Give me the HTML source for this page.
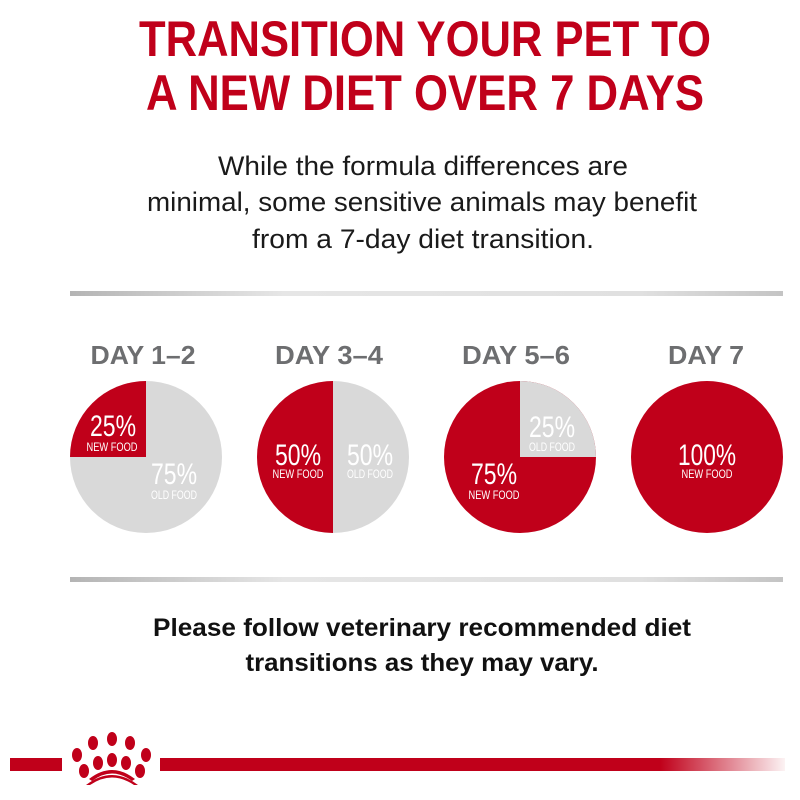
<!DOCTYPE html>
<html><head><style>
body{margin:0;background:#fff}
svg{display:block}
.t{font-family:"Liberation Sans Narrow","Liberation Sans",sans-serif;font-weight:bold;fill:#c0001a;font-size:50px}
.b{font-family:"Liberation Sans",sans-serif;font-size:26.5px;fill:#1a1a1a}
.bb{font-family:"Liberation Sans",sans-serif;font-size:25px;fill:#111;font-weight:bold}
.d{font-family:"Liberation Sans",sans-serif;font-weight:bold;fill:#6d6e70;font-size:26px}
.p{font-family:"Liberation Sans Narrow","Liberation Sans",sans-serif;fill:#fff;font-size:30px}
.s{font-family:"Liberation Sans Narrow","Liberation Sans",sans-serif;fill:#fff;font-size:12px}
</style></head><body>
<svg width="800" height="800" viewBox="0 0 800 800">
<defs>
<linearGradient id="g" x1="0" x2="1"><stop offset="0" stop-color="#b4b4b4"/><stop offset="0.3" stop-color="#e6e6e6"/><stop offset="0.8" stop-color="#e0e0e0"/><stop offset="1" stop-color="#c4c4c4"/></linearGradient>
<linearGradient id="r" x1="0" x2="1"><stop offset="0" stop-color="#c0001a"/><stop offset="0.8" stop-color="#c0001a"/><stop offset="1" stop-color="#c0001a" stop-opacity="0.05"/></linearGradient>
</defs>
<text class="t" x="425" y="56" text-anchor="middle" textLength="572" lengthAdjust="spacingAndGlyphs">TRANSITION YOUR PET TO</text>
<text class="t" x="425" y="110" text-anchor="middle" textLength="558" lengthAdjust="spacingAndGlyphs">A NEW DIET OVER 7 DAYS</text>
<text class="b" x="423" y="175" text-anchor="middle" textLength="410" lengthAdjust="spacingAndGlyphs">While the formula differences are</text>
<text class="b" x="422" y="211" text-anchor="middle" textLength="550" lengthAdjust="spacingAndGlyphs">minimal, some sensitive animals may benefit</text>
<text class="b" x="423" y="248" text-anchor="middle" textLength="342" lengthAdjust="spacingAndGlyphs">from a 7-day diet transition.</text>
<rect x="70" y="291" width="713" height="5" fill="url(#g)"/>
<rect x="70" y="577" width="713" height="5" fill="url(#g)"/>
<text class="d" x="143" y="364" text-anchor="middle" textLength="105" lengthAdjust="spacingAndGlyphs">DAY 1–2</text>
<text class="d" x="329" y="364" text-anchor="middle" textLength="108" lengthAdjust="spacingAndGlyphs">DAY 3–4</text>
<text class="d" x="516" y="364" text-anchor="middle" textLength="108" lengthAdjust="spacingAndGlyphs">DAY 5–6</text>
<text class="d" x="706" y="364" text-anchor="middle" textLength="76" lengthAdjust="spacingAndGlyphs">DAY 7</text>
<!-- pie 1 -->
<circle cx="146" cy="457" r="76" fill="#d9d9d9"/>
<path d="M146 457 L70 457 A76 76 0 0 1 146 381 Z" fill="#c0001a"/>
<text class="p" x="113" y="436" text-anchor="middle" textLength="46" lengthAdjust="spacingAndGlyphs">25%</text>
<text class="s" x="112" y="451" text-anchor="middle" textLength="51" lengthAdjust="spacingAndGlyphs">NEW FOOD</text>
<text class="p" x="174" y="484" text-anchor="middle" textLength="46" lengthAdjust="spacingAndGlyphs">75%</text>
<text class="s" x="174" y="499" text-anchor="middle" textLength="46" lengthAdjust="spacingAndGlyphs">OLD FOOD</text>
<!-- pie 2 -->
<circle cx="333" cy="457" r="76" fill="#d9d9d9"/>
<path d="M333 381 A76 76 0 0 0 333 533 Z" fill="#c0001a"/>
<text class="p" x="298" y="465" text-anchor="middle" textLength="46" lengthAdjust="spacingAndGlyphs">50%</text>
<text class="s" x="298" y="478" text-anchor="middle" textLength="51" lengthAdjust="spacingAndGlyphs">NEW FOOD</text>
<text class="p" x="370" y="465" text-anchor="middle" textLength="46" lengthAdjust="spacingAndGlyphs">50%</text>
<text class="s" x="370" y="478" text-anchor="middle" textLength="46" lengthAdjust="spacingAndGlyphs">OLD FOOD</text>
<!-- pie 3 -->
<circle cx="520" cy="457" r="76" fill="#c0001a"/>
<path d="M520 457 L520 381 A76 76 0 0 1 596 457 Z" fill="#d9d9d9"/>
<text class="p" x="552" y="437" text-anchor="middle" textLength="46" lengthAdjust="spacingAndGlyphs">25%</text>
<text class="s" x="552" y="451" text-anchor="middle" textLength="46" lengthAdjust="spacingAndGlyphs">OLD FOOD</text>
<text class="p" x="494" y="484" text-anchor="middle" textLength="46" lengthAdjust="spacingAndGlyphs">75%</text>
<text class="s" x="494" y="499" text-anchor="middle" textLength="51" lengthAdjust="spacingAndGlyphs">NEW FOOD</text>
<!-- pie 4 -->
<circle cx="707" cy="457" r="76" fill="#c0001a"/>
<text class="p" x="707" y="465" text-anchor="middle" textLength="58" lengthAdjust="spacingAndGlyphs">100%</text>
<text class="s" x="707" y="478" text-anchor="middle" textLength="51" lengthAdjust="spacingAndGlyphs">NEW FOOD</text>
<text class="bb" x="422" y="636" text-anchor="middle" textLength="538" lengthAdjust="spacingAndGlyphs">Please follow veterinary recommended diet</text>
<text class="bb" x="422" y="671" text-anchor="middle" textLength="353" lengthAdjust="spacingAndGlyphs">transitions as they may vary.</text>
<rect x="10" y="758" width="52" height="13" fill="#c0001a"/>
<rect x="160" y="758" width="625" height="13" fill="url(#r)"/>
<g fill="#c0001a">
<ellipse cx="77" cy="755" rx="5" ry="7"/><ellipse cx="93" cy="743" rx="5" ry="7"/><ellipse cx="112" cy="739" rx="5" ry="7"/><ellipse cx="130" cy="743" rx="5" ry="7"/><ellipse cx="146" cy="755" rx="5" ry="7"/>
<ellipse cx="84" cy="771" rx="5" ry="7"/><ellipse cx="98" cy="763" rx="5" ry="7"/><ellipse cx="112" cy="760" rx="5" ry="7"/><ellipse cx="126" cy="763" rx="5" ry="7"/><ellipse cx="140" cy="771" rx="5" ry="7"/>
<path d="M86 785 Q112 765 138 785 L134 785 Q112 770 90 785Z"/>
<path d="M89 779 Q112 761 135 779 L132 781 Q112 766 92 781Z"/>
</g>
</svg>
</body></html>
